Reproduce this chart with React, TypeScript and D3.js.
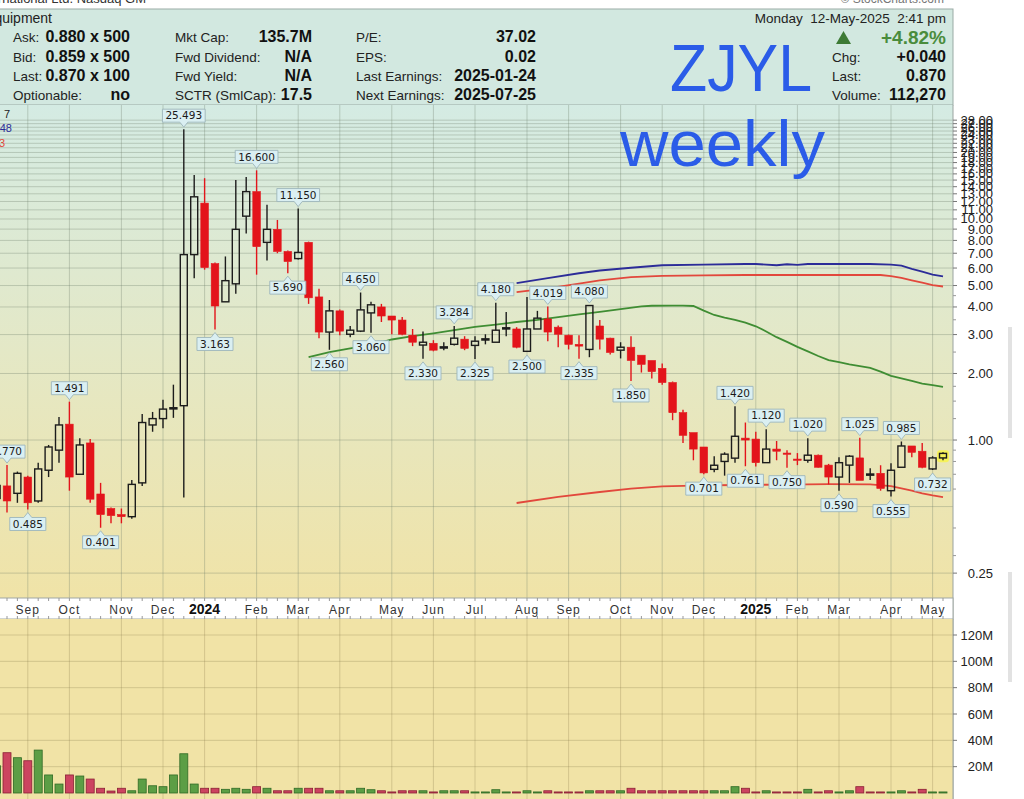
import React from "react";
import * as d3 from "d3";

// ---------- DATA ----------
const FIRST_WEEK = new Date(2023, 7, 14); // week of Aug 14, 2023

const opens = [0.544,0.62,0.574,0.68,0.53,0.73,0.90,1.18,0.70,0.97,
 0.57,0.49,0.46,0.45,0.64,1.17,1.25,1.39,1.43,6.9,
 11.8,6.28,4.22,5.09,10.3,13.3,7.84,8.98,7.13,6.62,
 7.84,4.44,3.08,3.84,3.01,3.11,3.76,4.0,3.64,3.49,
 2.98,2.69,2.74,2.63,2.71,2.86,2.68,2.85,2.77,3.20,
 3.18,2.52,3.18,3.53,3.24,2.98,2.71,2.57,3.28,2.89,
 2.55,2.63,2.42,2.29,2.11,1.82,1.33,1.08,0.93,0.737,
 0.80,0.828,1.02,1.01,0.79,0.91,0.873,0.82,0.81,0.854,
 0.77,0.68,0.77,0.83,0.698,0.707,0.59,0.753,0.94,0.89,
 0.74,0.83];
const highs = [0.66,0.770,0.72,0.69,0.79,0.95,1.27,1.491,1.02,1.01,
 0.64,0.495,0.49,0.66,1.31,1.34,1.52,1.78,25.493,15.8,
 15.3,6.35,6.77,15.0,15.5,16.6,11.6,9.9,7.2,11.15,
 7.9,4.83,4.30,3.9,3.28,4.65,4.22,4.13,3.64,3.6,
 3.18,3.1,2.83,2.77,3.284,2.95,2.95,3.01,4.18,3.80,
 3.24,4.44,3.84,4.019,3.30,3.0,2.98,4.08,3.49,2.9,
 2.77,2.95,2.42,2.29,2.22,1.84,1.37,1.08,0.93,0.845,
 0.88,1.42,1.20,1.09,1.12,0.99,0.90,0.873,1.02,0.86,
 0.78,0.836,0.854,1.025,0.745,0.769,0.785,0.985,0.94,0.97,
 0.845,0.88];
const lows = [0.45,0.47,0.52,0.485,0.52,0.68,0.79,0.59,0.70,0.52,
 0.401,0.42,0.42,0.44,0.62,1.09,1.13,1.26,0.55,5.4,
 5.9,3.163,4.22,4.59,8.6,5.6,6.49,7.0,5.69,6.55,
 4.13,2.89,2.56,2.98,2.92,3.08,3.06,3.42,3.01,2.98,
 2.66,2.33,2.52,2.55,2.68,2.55,2.325,2.71,2.77,2.95,
 2.60,2.50,3.18,2.80,2.63,2.57,2.335,2.37,2.57,2.44,
 2.34,1.85,2.02,1.90,1.78,1.23,0.97,0.81,0.701,0.715,
 0.69,0.79,0.761,0.76,0.79,0.81,0.75,0.77,0.79,0.75,
 0.63,0.59,0.64,0.657,0.66,0.59,0.555,0.753,0.836,0.745,
 0.732,0.81];
const closes = [0.623,0.53,0.707,0.52,0.74,0.93,1.17,0.68,0.95,0.54,
 0.46,0.455,0.45,0.63,1.20,1.25,1.38,1.40,6.9,12.6,
 6.03,4.04,5.26,8.98,13.3,7.5,8.98,7.13,6.42,7.06,
 4.40,3.08,3.84,3.11,3.14,3.88,4.09,3.64,3.49,3.01,
 2.77,2.77,2.55,2.64,2.89,2.60,2.80,2.87,3.14,3.22,
 2.63,3.18,3.56,3.08,3.01,2.71,2.66,4.06,2.86,2.49,
 2.63,2.29,2.20,2.04,1.82,1.33,1.05,0.91,0.71,0.769,
 0.863,1.04,1.00,0.79,0.91,0.89,0.863,0.81,0.854,0.753,
 0.68,0.79,0.845,0.657,0.702,0.604,0.73,0.94,0.88,0.753,
 0.83,0.87];
// weekly volume, millions
const volumes = [20.7,30.6,26.8,24.5,32.6,13.7,6.8,13.7,12.9,10.6,
 3.6,1.5,3.6,1.7,10.6,5.5,4.8,13.7,29.8,6.8,
 3.6,3.6,2.8,3.6,2.8,4.8,3.6,1.7,1.7,3.6,
 3.6,3.6,1.7,1.7,1.7,3.6,2.5,1.7,0.8,1.7,
 1.7,1.7,0.8,1.7,1.7,1.7,0.8,0.8,2.5,0.8,
 0.8,1.7,0.8,1.7,0.8,0.8,0.8,1.7,1.7,1.7,
 1.7,3.6,1.7,1.7,1.7,1.7,1.7,1.7,1.7,1.7,
 1.7,4.8,3.6,0.8,1.7,0.8,0.8,0.8,2.8,0.8,
 1.7,0.8,1.7,4.8,0.8,0.8,0.8,1.7,0.8,2.8,
 0.8,0.8];
const volumeDirection = "grgrgggrgr" + "rrrggggggg" + "rrgggrgrrg" + "rrgrgggrrr" + "rgrggrgggg" +
  "rggrrrrgrr" + "grrrrrrrrg" + "ggrrgrrrgr" + "rggrrrggrr" + "gg";

// moving averages / envelope: [week index, value]
const greenMA: [number, number][] = [[30,2.37],[32,2.50],[34,2.60],[36,2.69],[38,2.85],[40,2.95],[42,3.04],[44,3.14],[46,3.25],[48,3.33],[50,3.42],[52,3.50],[54,3.60],[56,3.70],[58,3.80],[60,3.91],[62,4.02],[63,4.05],[65,4.06],[66,4.06],[67,4.04],[68,3.85],[69,3.68],[70,3.58],[71,3.50],[72,3.40],[73,3.27],[74,3.10],[75,2.92],[76,2.78],[77,2.64],[78,2.52],[79,2.40],[80,2.30],[81,2.25],[82,2.20],[83,2.16],[84,2.12],[85,2.04],[86,1.95],[87,1.90],[88,1.85],[89,1.80],[90,1.77],[91,1.74]];
const blueLine: [number, number][] = [[50,5.13],[53,5.40],[56,5.68],[58,5.85],[61,6.02],[64,6.18],[68,6.22],[72,6.26],[73,6.26],[75,6.18],[76,6.24],[77,6.20],[78,6.26],[80,6.26],[84,6.26],[86,6.22],[87,6.15],[88,5.95],[89,5.78],[90,5.60],[91,5.50]];
const redUpper: [number, number][] = [[50,4.67],[53,4.85],[56,5.10],[58,5.28],[61,5.46],[64,5.53],[68,5.56],[72,5.58],[80,5.58],[85,5.58],[86,5.52],[87,5.42],[88,5.28],[89,5.15],[90,5.02],[91,4.95]];
const redLower: [number, number][] = [[50,0.519],[54,0.553],[58,0.582],[61,0.603],[64,0.617],[67,0.622],[71,0.626],[76,0.629],[80,0.632],[84,0.630],[86,0.619],[87,0.605],[88,0.590],[89,0.574],[90,0.562],[91,0.552]];

const highLabelWeeks = [1,7,18,25,29,35,44,48,53,57,71,74,78,83,87];
const lowLabelWeeks = [3,10,21,28,32,36,41,46,51,56,61,68,72,76,81,86,90];

const priceTickLabels = [0.25,1,2,3,4,5,6,7,8,9,10,11,12,13,14,15,16,17,18,19,20,21,22,23,24,25,26,27,28];
const priceGridExtra = [0.5];
const priceMinorTicks = [0.3,0.4,0.6,0.7,0.8,0.9,1.25,1.5,1.75,2.5,3.5,4.5];
const volumeTicks = [20,40,60,80,100,120];

// ---------- LAYOUT ----------
const W = 1024, H = 799;
const PRICE_TOP = 105, PRICE_BOTTOM = 598, PLOT_RIGHT = 953;
const AXIS_BOTTOM = 619, VOL_ZERO = 793;
const SANS = "'Liberation Sans', Arial, sans-serif";
const LBL = "'DejaVu Sans', Verdana, sans-serif";

function labelWidth(s: string) {
  let w = 0;
  for (const ch of s) w += ch === "." ? 3.34 : 6.68;
  return w + 6;
}

export default function App() {
  const weeks = opens.map((_, i) => d3.timeWeek.offset(FIRST_WEEK, i));
  const x = d3.scaleTime().domain([weeks[1], weeks[weeks.length - 1]]).range([7, 943]);
  const y = d3.scaleLog().domain([0.1929, 32.79]).range([PRICE_BOTTOM, PRICE_TOP]);
  const yv = d3.scaleLinear().domain([0, 120]).range([VOL_ZERO, 635]);
  const xi = (i: number) => x(weeks[i]);

  const monthMarks = weeks
    .map((w, i) => ({ w, i }))
    .filter(({ w, i }) => i > 0 && w.getMonth() !== weeks[i - 1].getMonth());
  const fmtMonth = d3.timeFormat("%b");
  const fmtYear = d3.timeFormat("%Y");

  const line = d3.line<[number, number]>().x((d) => xi(d[0])).y((d) => y(d[1]));

  const gridColor = "rgba(110,125,105,0.32)";
  const volGrid = "rgba(140,125,80,0.30)";

  const renderLabel = (i: number, kind: "h" | "l") => {
    const v = kind === "h" ? highs[i] : lows[i];
    const s = v.toFixed(3);
    const cx = xi(i);
    const w = labelWidth(s);
    const x0 = cx - w / 2, x1 = cx + w / 2;
    let d: string, yt: number;
    if (kind === "h") {
      const yb = y(v) - 7;
      yt = yb - 13;
      d = `M${x0},${yt}H${x1}V${yb}H${cx + 4}L${cx},${yb + 5}L${cx - 4},${yb}H${x0}Z`;
    } else {
      yt = y(v) + 8;
      const yb = yt + 13;
      d = `M${x0},${yt}H${cx - 4}L${cx},${yt - 5}L${cx + 4},${yt}H${x1}V${yb}H${x0}Z`;
    }
    return (
      <g key={kind + i}>
        <path d={d} fill="#daeff2" stroke="#9db5bb" strokeWidth={0.9} />
        <text x={cx} y={yt + 10.2} textAnchor="middle" fontFamily={LBL} fontSize={10.5} fill="#1a1a1a">{s}</text>
      </g>
    );
  };

  const rowLabel = (tx: number, ty: number, s: string, size = 13.5) => (
    <text x={tx} y={ty} fontFamily={SANS} fontSize={size} fill="#222">{s}</text>
  );
  const rowValue = (tx: number, ty: number, s: string, size = 16, color = "#111") => (
    <text x={tx} y={ty} textAnchor="end" fontFamily={SANS} fontSize={size} fontWeight="bold" fill={color}>{s}</text>
  );

  return (
    <svg width={W} height={H} viewBox={`0 0 ${W} ${H}`} style={{ position: "absolute", left: 0, top: 0, background: "#fff" }}>
      <defs>
        <linearGradient id="priceBg" x1="0" y1="0" x2="0" y2="1">
          <stop offset="0%" stopColor="#d4ebe3" />
          <stop offset="50%" stopColor="#e4e8c6" />
          <stop offset="100%" stopColor="#f0e3a7" />
        </linearGradient>
        <clipPath id="priceClip">
          <rect x={0} y={PRICE_TOP} width={PLOT_RIGHT} height={PRICE_BOTTOM - PRICE_TOP} />
        </clipPath>
        <clipPath id="volClip">
          <rect x={0} y={AXIS_BOTTOM} width={PLOT_RIGHT} height={H - AXIS_BOTTOM} />
        </clipPath>
      </defs>

      <rect x={0} y={0} width={W} height={H} fill="#ffffff" />

      {/* top strip text (cropped by the screenshot edge) */}
      <text x={146} y={3} textAnchor="end" fontFamily={SANS} fontSize={13} fill="#333">Jin Medical International Ltd. Nasdaq GM</text>
      <text x={944} y={3} textAnchor="end" fontFamily={SANS} fontSize={12} fill="#777">© StockCharts.com</text>

      {/* header panel */}
      <rect x={-1} y={9} width={954} height={96} fill="#d2e8e0" stroke="#9aaba5" strokeWidth={1} />
      <text x={52} y={23} textAnchor="end" fontFamily={SANS} fontSize={14} fill="#222">Medical Equipment</text>
      <text x={946} y={23} textAnchor="end" fontFamily={SANS} fontSize={13.5} fill="#222" style={{ whiteSpace: "pre" }}>Monday  12-May-2025  2:41 pm</text>

      {rowLabel(13, 42, "Ask:")}
      {rowValue(130, 42, "0.880 x 500")}
      {rowLabel(13, 62, "Bid:")}
      {rowValue(130, 62, "0.859 x 500")}
      {rowLabel(13, 81, "Last:")}
      {rowValue(130, 81, "0.870 x 100")}
      {rowLabel(13, 100, "Optionable:")}
      {rowValue(130, 100, "no")}

      {rowLabel(175, 42, "Mkt Cap:")}
      {rowValue(312, 42, "135.7M")}
      {rowLabel(175, 62, "Fwd Dividend:")}
      {rowValue(312, 62, "N/A")}
      {rowLabel(175, 81, "Fwd Yield:")}
      {rowValue(312, 81, "N/A")}
      {rowLabel(175, 100, "SCTR (SmlCap):")}
      {rowValue(312, 100, "17.5")}

      {rowLabel(356, 42, "P/E:")}
      {rowValue(536, 42, "37.02")}
      {rowLabel(356, 62, "EPS:")}
      {rowValue(536, 62, "0.02")}
      {rowLabel(356, 81, "Last Earnings:")}
      {rowValue(536, 81, "2025-01-24")}
      {rowLabel(356, 100, "Next Earnings:")}
      {rowValue(536, 100, "2025-07-25")}

      <path d="M836,44 L851,44 L843.5,31 Z" fill="#3d7a35" />
      {rowValue(946, 44, "+4.82%", 19, "#4a8c3c")}
      {rowLabel(832, 62, "Chg:")}
      {rowValue(946, 62, "+0.040")}
      {rowLabel(832, 81, "Last:")}
      {rowValue(946, 81, "0.870")}
      {rowLabel(832, 100, "Volume:")}
      {rowValue(946, 100, "112,270")}

      {/* price panel */}
      <rect x={-1} y={PRICE_TOP} width={PLOT_RIGHT + 1} height={PRICE_BOTTOM - PRICE_TOP} fill="url(#priceBg)" />
      <g clipPath="url(#priceClip)">
        {[...priceTickLabels, ...priceGridExtra].map((t) => (
          <line key={"pg" + t} x1={0} x2={PLOT_RIGHT} y1={y(t)} y2={y(t)} stroke={gridColor} strokeWidth={1} />
        ))}
        {monthMarks.map(({ i }) => (
          <line key={"mv" + i} x1={xi(i)} x2={xi(i)} y1={PRICE_TOP} y2={PRICE_BOTTOM} stroke={gridColor} strokeWidth={1} />
        ))}

        {/* moving averages */}
        <path d={line(greenMA) || ""} fill="none" stroke="#3f8d33" strokeWidth={1.8} />
        <path d={line(redUpper) || ""} fill="none" stroke="#e2483c" strokeWidth={1.8} />
        <path d={line(blueLine) || ""} fill="none" stroke="#2c2c98" strokeWidth={1.9} />
        <path d={line(redLower) || ""} fill="none" stroke="#e2483c" strokeWidth={1.8} />

        {/* highlight behind last candle */}
        <rect x={xi(91) - 6} y={y(highs[91]) - 2} width={12} height={y(lows[91]) - y(highs[91]) + 4} rx={3} fill="#f6f25a" />

        {/* candles */}
        {opens.map((o, i) => {
          const c = closes[i];
          const cx = xi(i);
          const up = c >= o;
          const top = y(Math.max(o, c));
          const bot = y(Math.min(o, c));
          const bh = Math.max(bot - top, 1.2);
          const col = up ? "#1c1c1c" : "#e3141b";
          return (
            <g key={"c" + i}>
              <line x1={cx} x2={cx} y1={y(highs[i])} y2={top} stroke={col} strokeWidth={1.4} />
              <line x1={cx} x2={cx} y1={top + bh} y2={y(lows[i])} stroke={col} strokeWidth={1.4} />
              {up ? (
                <rect x={cx - 3.5} y={top} width={7} height={bh} fill="none" stroke={col} strokeWidth={1.4} />
              ) : (
                <rect x={cx - 3.8} y={top} width={7.6} height={bh} fill={col} stroke={col} strokeWidth={0.6} />
              )}
            </g>
          );
        })}

        {highLabelWeeks.map((i) => renderLabel(i, "h"))}
        {lowLabelWeeks.map((i) => renderLabel(i, "l"))}

        {/* legend fragments (cropped) */}
        <text x={10} y={118} textAnchor="end" fontFamily={SANS} fontSize={11} fill="#222">7</text>
        <text x={12} y={132} textAnchor="end" fontFamily={SANS} fontSize={11} fill="#2c2c98">48</text>
        <text x={5} y={147} textAnchor="end" fontFamily={SANS} fontSize={11} fill="#e2483c">3</text>
      </g>
      <line x1={PLOT_RIGHT} x2={PLOT_RIGHT} y1={PRICE_TOP} y2={H} stroke="#9aa3a0" strokeWidth={1} />

      {/* price axis */}
      {priceTickLabels.map((t) => (
        <g key={"pt" + t}>
          <line x1={PLOT_RIGHT} x2={PLOT_RIGHT + 4} y1={y(t)} y2={y(t)} stroke="#777" />
          <text x={993} y={y(t) + 4.5} textAnchor="end" fontFamily={SANS} fontSize={13} fill="#222">{t.toFixed(2)}</text>
        </g>
      ))}
      {priceMinorTicks.map((t) => (
        <line key={"pm" + t} x1={PLOT_RIGHT} x2={PLOT_RIGHT + 3} y1={y(t)} y2={y(t)} stroke="#999" />
      ))}

      {/* ZJYL weekly titles */}
      <text x={670} y={91} fontFamily={SANS} fontSize={66} fill="#2b5ce8" textLength={142} lengthAdjust="spacingAndGlyphs">ZJYL</text>
      <text x={620} y={166} fontFamily={SANS} fontSize={65} fill="#2b5ce8" textLength={205} lengthAdjust="spacingAndGlyphs">weekly</text>

      {/* date axis strip */}
      <rect x={-1} y={PRICE_BOTTOM} width={PLOT_RIGHT + 1} height={AXIS_BOTTOM - PRICE_BOTTOM} fill="#ffffff" stroke="#a0a8a4" strokeWidth={1} />
      {weeks.map((w, i) => (
        <g key={"wt" + i}>
          <line x1={xi(i)} x2={xi(i)} y1={PRICE_BOTTOM} y2={PRICE_BOTTOM + 3} stroke="#999" />
          <line x1={xi(i)} x2={xi(i)} y1={AXIS_BOTTOM - 3} y2={AXIS_BOTTOM} stroke="#999" />
        </g>
      ))}
      {monthMarks.map(({ w, i }) =>
        w.getMonth() === 0 ? (
          <text key={"ml" + i} x={xi(i)} y={614} textAnchor="middle" fontFamily={SANS} fontSize={14} fontWeight="bold" fill="#111">{fmtYear(w)}</text>
        ) : (
          <text key={"ml" + i} x={xi(i)} y={614} textAnchor="middle" fontFamily={SANS} fontSize={12} letterSpacing={1} fill="#333">{fmtMonth(w)}</text>
        )
      )}

      {/* volume panel */}
      <rect x={-1} y={AXIS_BOTTOM} width={PLOT_RIGHT + 1} height={H - AXIS_BOTTOM + 2} fill="#f1e3a6" />
      <g clipPath="url(#volClip)">
        {volumeTicks.map((t) => (
          <line key={"vg" + t} x1={0} x2={PLOT_RIGHT} y1={yv(t)} y2={yv(t)} stroke={volGrid} />
        ))}
        {monthMarks.map(({ i }) => (
          <line key={"vm" + i} x1={xi(i)} x2={xi(i)} y1={AXIS_BOTTOM} y2={H} stroke={volGrid} />
        ))}
        {volumes.map((v, i) => {
          const g = volumeDirection[i] === "g";
          return (
            <rect key={"v" + i} x={xi(i) - 4} y={yv(v)} width={8} height={VOL_ZERO - yv(v)}
              fill={g ? "#5c9e45" : "#cc4460"} stroke={g ? "#2f6a25" : "#8a2035"} strokeWidth={0.8} />
          );
        })}
      </g>
      <line x1={PLOT_RIGHT} x2={PLOT_RIGHT} y1={AXIS_BOTTOM} y2={H} stroke="#9aa3a0" />
      {volumeTicks.map((t) => (
        <g key={"vt" + t}>
          <line x1={PLOT_RIGHT} x2={PLOT_RIGHT + 4} y1={yv(t)} y2={yv(t)} stroke="#777" />
          <text x={993} y={yv(t) + 4.5} textAnchor="end" fontFamily={SANS} fontSize={13} fill="#222">{t}M</text>
        </g>
      ))}

      {/* screenshot scrollbar remnants */}
      <rect x={1008} y={327} width={4} height={111} fill="#e2e2e2" />
      <rect x={1008} y={572} width={4} height={110} fill="#e2e2e2" />
    </svg>
  );
}
